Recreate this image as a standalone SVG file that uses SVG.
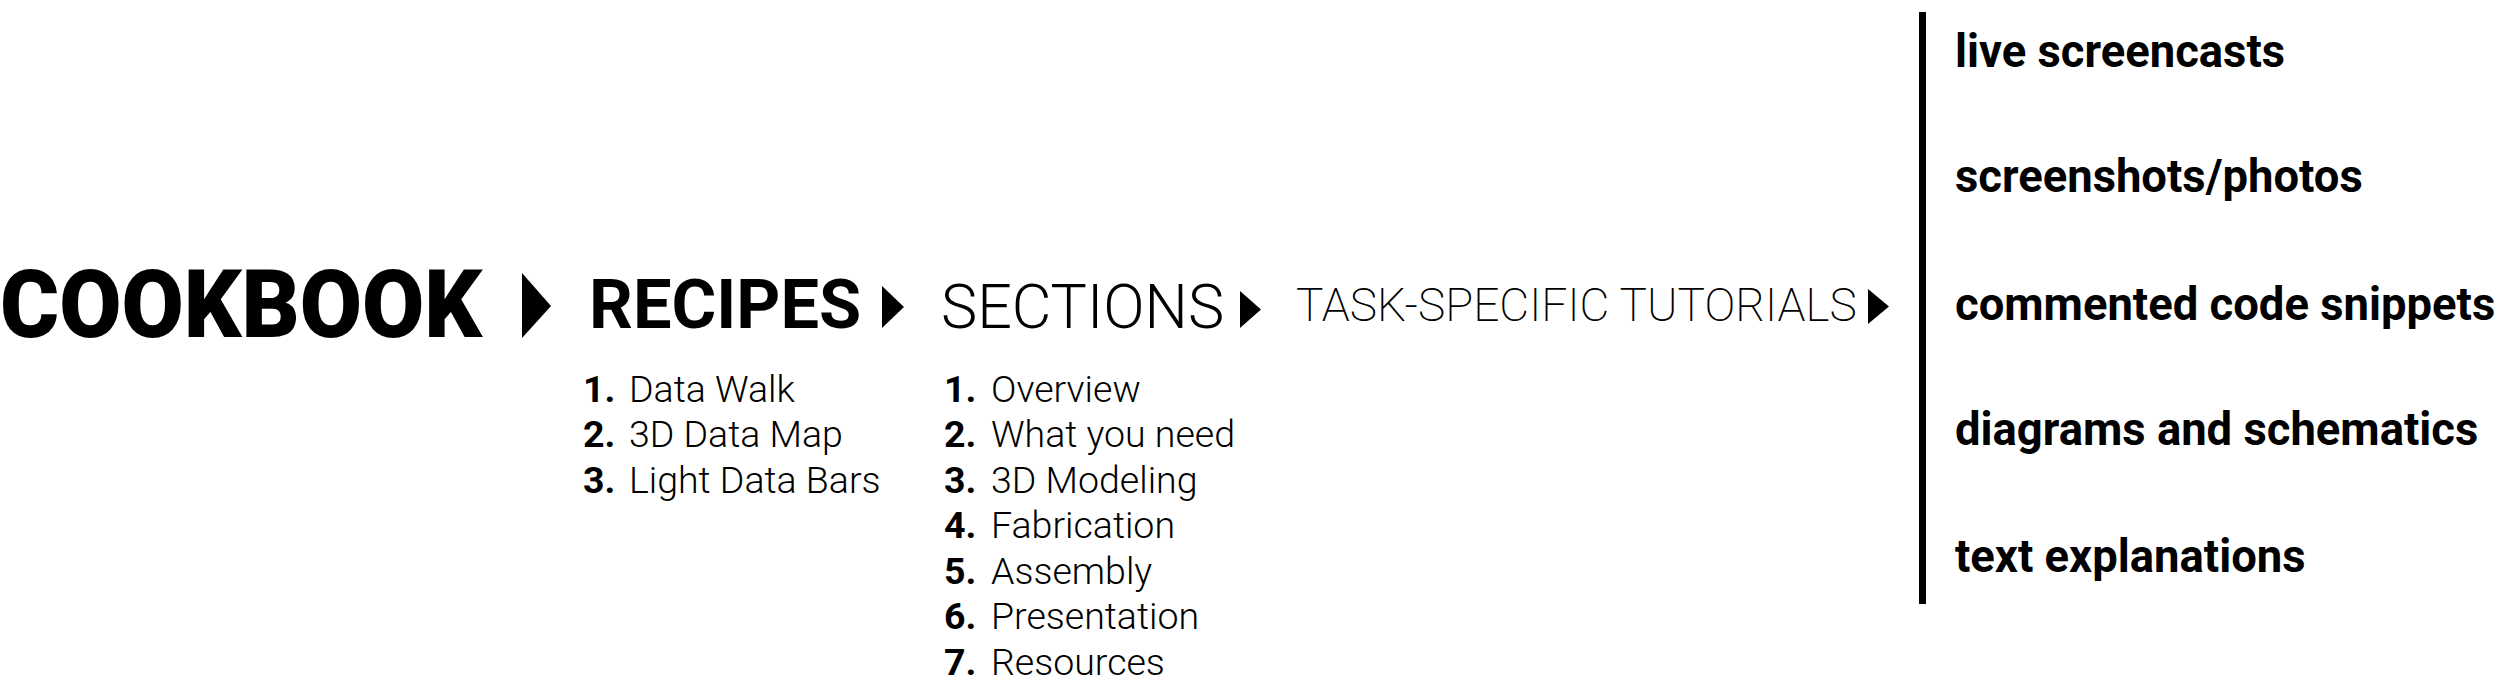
<svg xmlns="http://www.w3.org/2000/svg" width="2518" height="692" viewBox="0 0 2518 692">
<style>
text{font-family:Roboto,"Liberation Sans",sans-serif;fill:#000}
.h1{font-size:94px;font-weight:900}
.h2{font-size:68.5px;font-weight:700}
.h3{font-size:61px;font-weight:300}
.h4{font-size:46px;font-weight:200}
.num{font-size:37.5px;font-weight:700}
.item{font-size:37.5px;font-weight:300}
.media{font-size:45.4px;font-weight:700}
.tri{fill:#000}
</style>
<rect width="2518" height="692" fill="#fff"/>
<g id="cookbook"><text class="h1" x="0" y="337" textLength="482" lengthAdjust="spacingAndGlyphs">COOKBOOK</text></g>
<g id="recipes">
<text class="h2" x="589" y="328">RECIPES</text>
<text class="num" x="583" y="402">1.</text><text class="item" x="629" y="402">Data Walk</text>
<text class="num" x="583" y="447">2.</text><text class="item" x="629" y="447">3D Data Map</text>
<text class="num" x="583" y="493">3.</text><text class="item" x="629" y="493">Light Data Bars</text>
</g>
<g id="sections">
<text class="h3" x="941" y="328">SECTIONS</text>
<text class="num" x="944" y="402">1.</text><text class="item" x="991" y="402">Overview</text>
<text class="num" x="944" y="447">2.</text><text class="item" x="991" y="447">What you need</text>
<text class="num" x="944" y="493">3.</text><text class="item" x="991" y="493">3D Modeling</text>
<text class="num" x="944" y="538">4.</text><text class="item" x="991" y="538">Fabrication</text>
<text class="num" x="944" y="584">5.</text><text class="item" x="991" y="584">Assembly</text>
<text class="num" x="944" y="629">6.</text><text class="item" x="991" y="629">Presentation</text>
<text class="num" x="944" y="675">7.</text><text class="item" x="991" y="675">Resources</text>
</g>
<g id="tutorials"><text class="h4" x="1296" y="321">TASK-SPECIFIC TUTORIALS</text></g>
<g id="media">
<rect x="1919" y="12" width="7" height="592" fill="#000"/>
<text class="media" x="1955" y="67">live screencasts</text>
<text class="media" x="1955" y="192">screenshots/photos</text>
<text class="media" x="1955" y="320">commented code snippets</text>
<text class="media" x="1955" y="445">diagrams and schematics</text>
<text class="media" x="1955" y="572">text explanations</text>
</g>
<g id="connectors">
<polygon class="tri" points="522,273 551,306 522,338"/>
<polygon class="tri" points="882,286 904,307 882,328"/>
<polygon class="tri" points="1240,291 1261,309.5 1240,328"/>
<polygon class="tri" points="1868,289 1889,306.5 1868,324"/>
</g>
</svg>
